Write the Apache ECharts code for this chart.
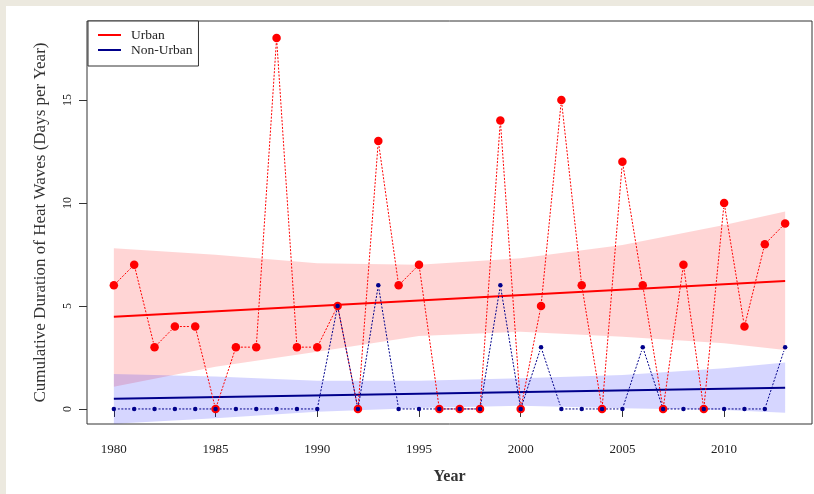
<!DOCTYPE html>
<html>
<head>
<meta charset="utf-8">
<script src="https://cdn.jsdelivr.net/npm/echarts@6/dist/echarts.min.js"></script>
<style>
  html, body { margin: 0; padding: 0; width: 814px; height: 494px; background: #ece9df; overflow: hidden; }
  #panel { position: absolute; left: 6px; top: 6px; right: 0; bottom: 0; background: #ffffff; }
  #chart { position: absolute; left: 0; top: 0; width: 814px; height: 494px; }
</style>
</head>
<body>
<div id="panel"></div>
<div id="chart"></div>
<script>
// Annual cumulative heat-wave duration, 1980-2013
const years = [1980, 1981, 1982, 1983, 1984, 1985, 1986, 1987, 1988, 1989,
               1990, 1991, 1992, 1993, 1994, 1995, 1996, 1997, 1998, 1999,
               2000, 2001, 2002, 2003, 2004, 2005, 2006, 2007, 2008, 2009,
               2010, 2011, 2012, 2013];
const urban = [6, 7, 3, 4, 4, 0, 3, 3, 18, 3,
               3, 5, 0, 13, 6, 7, 0, 0, 0, 14,
               0, 5, 15, 6, 0, 12, 6, 0, 7, 0,
               10, 4, 8, 9];
const nonUrban = [0, 0, 0, 0, 0, 0, 0, 0, 0, 0,
                  0, 5, 0, 6, 0, 0, 0, 0, 0, 6,
                  0, 3, 0, 0, 0, 0, 3, 0, 0, 0,
                  0, 0, 0, 3];

// Linear trend end points
const trendYears = [1980, 2013];
const urbanTrend = [4.48, 6.21];
const nonUrbanTrend = [0.49, 1.03];

// Confidence band bounds for each trend
const bandYears = [1980, 1985, 1990, 1995, 2000, 2005, 2010, 2013];
const urbanUpper = [7.80, 7.48, 7.07, 7.00, 7.31, 7.96, 8.93, 9.58];
const urbanLower = [1.08, 2.05, 2.78, 3.54, 3.75, 3.51, 3.19, 2.86];
const nonUrbanUpper = [1.70, 1.57, 1.37, 1.37, 1.49, 1.65, 1.98, 2.25];
const nonUrbanLower = [-0.72, -0.45, -0.13, 0.05, 0.15, 0.03, -0.05, -0.18];

const xTicks = [1980, 1985, 1990, 1995, 2000, 2005, 2010];
const yTicks = [0, 5, 10, 15];

const RED = '#ff0000';
const NAVY = '#00008b';
const SERIF = '"Liberation Serif", "DejaVu Serif", serif';

function pairs(xs, ys) { return xs.map((x, i) => [x, ys[i]]); }

// Shaded band: one polygon through upper bounds and back along lower bounds
function bandSeries(upper, lower, fill) {
  return {
    type: 'custom',
    clip: true,
    silent: true,
    z: 1,
    data: pairs(bandYears, upper),
    encode: { x: 0, y: 1 },
    renderItem: function (params, api) {
      if (params.dataIndex !== 0) return null;
      const pts = [];
      for (let i = 0; i < bandYears.length; i++) pts.push(api.coord([bandYears[i], upper[i]]));
      for (let i = bandYears.length - 1; i >= 0; i--) pts.push(api.coord([bandYears[i], lower[i]]));
      return { type: 'polygon', shape: { points: pts }, style: { fill: fill } };
    }
  };
}

// Dotted connectors that stop short of each point
function connectorSeries(vals, color, gap) {
  return {
    type: 'custom',
    clip: true,
    silent: true,
    z: 3,
    data: pairs(years, vals),
    encode: { x: 0, y: 1 },
    renderItem: function (params, api) {
      const i = params.dataIndex;
      if (i === 0) return null;
      const a = api.coord([years[i - 1], vals[i - 1]]);
      const b = api.coord([years[i], vals[i]]);
      const dx = b[0] - a[0], dy = b[1] - a[1];
      const len = Math.sqrt(dx * dx + dy * dy);
      if (len <= 2 * gap) return null;
      const ux = dx / len, uy = dy / len;
      return {
        type: 'line',
        shape: { x1: a[0] + ux * gap, y1: a[1] + uy * gap, x2: b[0] - ux * gap, y2: b[1] - uy * gap },
        style: { stroke: color, lineWidth: 1, lineDash: [2, 1.5] }
      };
    }
  };
}

const chart = echarts.init(document.getElementById('chart'), null, { renderer: 'canvas' });

chart.setOption({
  animation: false,
  backgroundColor: 'transparent',
  grid: {
    left: 87, top: 21, right: 2, bottom: 70,
    show: true, borderColor: '#333', borderWidth: 1, backgroundColor: 'transparent'
  },
  legend: {
    left: 88, top: 21,
    orient: 'vertical',
    padding: [7, 6, 9, 10],
    itemGap: 1,
    itemWidth: 23,
    itemHeight: 2,
    icon: 'rect',
    backgroundColor: '#ffffff',
    borderColor: '#333',
    borderWidth: 1,
    borderRadius: 0,
    textStyle: { fontFamily: SERIF, fontSize: 13.5, color: '#222', lineHeight: 14, padding: [0, 0, 0, 5] },
    data: ['Urban', 'Non-Urban']
  },
  xAxis: {
    type: 'value',
    min: 1978.68, max: 2014.32,
    name: 'Year',
    nameLocation: 'middle',
    nameGap: 45,
    nameTextStyle: { fontFamily: SERIF, fontSize: 16, fontWeight: 'bold', color: '#333' },
    axisLine: { show: false },
    axisTick: { show: true, length: 8, lineStyle: { color: '#333' }, customValues: xTicks },
    axisLabel: {
      customValues: xTicks, margin: 19, fontFamily: SERIF, fontSize: 13, color: '#222',
      formatter: v => String(v)
    },
    splitLine: { show: false }
  },
  yAxis: {
    type: 'value',
    min: -0.73, max: 18.83,
    name: 'Cumulative Duration of Heat Waves (Days per Year)',
    nameLocation: 'middle',
    nameGap: 38,
    nameRotate: 90,
    nameTextStyle: { fontFamily: SERIF, fontSize: 17, color: '#333' },
    axisLine: { show: false },
    axisTick: { show: true, length: 8, lineStyle: { color: '#333' }, customValues: yTicks },
    axisLabel: {
      customValues: yTicks, rotate: 90, margin: 13, fontFamily: SERIF, fontSize: 12, color: '#222',
      formatter: v => String(v)
    },
    splitLine: { show: false }
  },
  series: [
    bandSeries(urbanUpper, urbanLower, 'rgba(255,0,0,0.165)'),
    bandSeries(nonUrbanUpper, nonUrbanLower, 'rgba(0,0,255,0.16)'),
    {
      name: 'Urban', type: 'line', z: 2, showSymbol: false, silent: true,
      data: pairs(trendYears, urbanTrend),
      lineStyle: { color: RED, width: 2 }, itemStyle: { color: RED }
    },
    {
      name: 'Non-Urban', type: 'line', z: 2, showSymbol: false, silent: true,
      data: pairs(trendYears, nonUrbanTrend),
      lineStyle: { color: NAVY, width: 2 }, itemStyle: { color: NAVY }
    },
    connectorSeries(urban, RED, 5),
    {
      type: 'scatter', z: 4, silent: true,
      data: pairs(years, urban),
      symbol: 'circle', symbolSize: 8.5,
      itemStyle: { color: RED, opacity: 1 }
    },
    connectorSeries(nonUrban, NAVY, 4),
    {
      type: 'scatter', z: 5, silent: true,
      data: pairs(years, nonUrban),
      symbol: 'circle', symbolSize: 4.5,
      itemStyle: { color: NAVY, opacity: 1 }
    }
  ]
});
</script>
</body>
</html>
